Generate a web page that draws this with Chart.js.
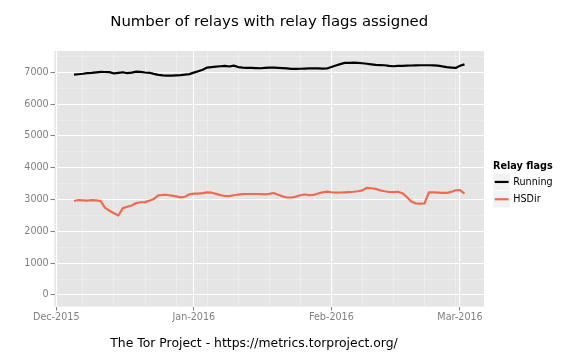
<!DOCTYPE html>
<html><head><meta charset="utf-8">
<script src="https://cdn.jsdelivr.net/npm/chart.js@4/dist/chart.umd.min.js"></script>
<style>html,body{margin:0;padding:0;background:#fff;} canvas{display:block;}</style>
</head><body>
<canvas id="c" width="576" height="360"></canvas>
<script>
const dates = [
'2015-12-05','2015-12-06','2015-12-07','2015-12-08','2015-12-09','2015-12-10','2015-12-11','2015-12-12','2015-12-13','2015-12-14',
'2015-12-15','2015-12-16','2015-12-17','2015-12-18','2015-12-19','2015-12-20','2015-12-21','2015-12-22','2015-12-23','2015-12-24',
'2015-12-25','2015-12-26','2015-12-27','2015-12-28','2015-12-29','2015-12-30','2015-12-31',
'2016-01-01','2016-01-02','2016-01-03','2016-01-04','2016-01-05','2016-01-06','2016-01-07','2016-01-08','2016-01-09','2016-01-10',
'2016-01-11','2016-01-12','2016-01-13','2016-01-14','2016-01-15','2016-01-16','2016-01-17','2016-01-18','2016-01-19','2016-01-20',
'2016-01-21','2016-01-22','2016-01-23','2016-01-24','2016-01-25','2016-01-26','2016-01-27','2016-01-28','2016-01-29','2016-01-30','2016-01-31',
'2016-02-01','2016-02-02','2016-02-03','2016-02-04','2016-02-05','2016-02-06','2016-02-07','2016-02-08','2016-02-09','2016-02-10',
'2016-02-11','2016-02-12','2016-02-13','2016-02-14','2016-02-15','2016-02-16','2016-02-17','2016-02-18','2016-02-19','2016-02-20',
'2016-02-21','2016-02-22','2016-02-23','2016-02-24','2016-02-25','2016-02-26','2016-02-27','2016-02-28','2016-02-29',
'2016-03-01','2016-03-02'
];
const running = [
6928,6940,6955,6975,6985,7000,7013,7010,7005,6965,
6985,7003,6972,6990,7020,7015,6995,6985,6950,6920,
6905,6898,6897,6905,6909,6925,6942,
6990,7035,7080,7148,7165,7178,7190,7201,7182,7211,
7165,7150,7142,7137,7132,7128,7138,7148,7150,7140,
7130,7122,7110,7107,7112,7117,7122,7128,7122,7117,7120,
7165,7215,7258,7295,7300,7305,7298,7285,7270,7250,
7233,7228,7222,7200,7191,7201,7205,7210,7215,7220,
7222,7222,7222,7218,7212,7185,7165,7150,7138,
7205,7250
];
const hsdir = [
2955,2985,2975,2965,2980,2975,2950,2740,2650,2570,
2500,2730,2775,2815,2890,2915,2920,2965,3018,3130,
3144,3144,3125,3098,3068,3088,3165,
3188,3186,3200,3225,3215,3180,3140,3112,3110,3135,
3158,3168,3175,3175,3175,3172,3165,3180,3207,3150,
3100,3065,3065,3092,3135,3160,3140,3145,3190,3225,3248,
3230,3217,3222,3228,3235,3245,3262,3290,3370,3355,
3335,3290,3260,3237,3235,3245,3200,3080,2940,2880,
2870,2878,3230,3225,3215,3208,3207,3240,3292,
3295,3190
];
const seriesNames = ['Running', 'HSDir'];
const seriesColors = ['#000000', '#EE6A50'];
const xTickDates = ['2015-12-01', '2016-01-01', '2016-02-01', '2016-03-01'];
const xTickLabels = ['Dec-2015', 'Jan-2016', 'Feb-2016', 'Mar-2016'];
const xMinorDates = ['2015-12-07','2015-12-14','2015-12-21','2015-12-28','2016-01-04','2016-01-11','2016-01-18','2016-01-25','2016-02-08','2016-02-15','2016-02-22','2016-02-29'];
const yTicks = [0, 1000, 2000, 3000, 4000, 5000, 6000, 7000];
const yMinorTicks = [500, 1500, 2500, 3500, 4500, 5500, 6500, 7500];
const titleText = 'Number of relays with relay flags assigned';
const captionText = 'The Tor Project - https://metrics.torproject.org/';
const legendTitle = 'Relay flags';

const ORIGIN = Date.UTC(2015, 11, 1);
function dayOf(s) { const p = s.split('-').map(Number); return (Date.UTC(p[0], p[1] - 1, p[2]) - ORIGIN) / 86400000; }

const xs = dates.map(dayOf);
const xFirst = xs[0], xLast = xs[xs.length - 1];
const xPad = 0.05 * (xLast - xFirst);
const yMaxData = Math.max(...running, ...hsdir);
const yPad = 0.05 * yMaxData;

Chart.defaults.font.family = "'DejaVu Sans', sans-serif";

const panelBg = {
  id: 'panelBg',
  beforeDraw(chart) {
    const { ctx, chartArea: a } = chart;
    ctx.save();
    ctx.fillStyle = '#E5E5E5';
    ctx.fillRect(a.left, a.top, a.right - a.left, a.bottom - a.top);
    ctx.restore();
  }
};

const ggLegend = {
  id: 'ggLegend',
  afterDraw(chart) {
    const ctx = chart.ctx;
    const x0 = 493, keySize = 17.3, top0 = 173.3;
    ctx.save();
    ctx.textAlign = 'left';
    ctx.textBaseline = 'middle';
    ctx.fillStyle = '#000';
    ctx.font = "bold 9.7px 'DejaVu Sans', sans-serif";
    ctx.fillText(legendTitle, x0, 166.7);
    seriesNames.forEach((name, i) => {
      const t = top0 + i * keySize;
      ctx.fillStyle = '#F2F2F2';
      ctx.fillRect(x0, t, keySize, keySize);
      ctx.strokeStyle = '#FFFFFF';
      ctx.lineWidth = 0.6;
      ctx.strokeRect(x0, t, keySize, keySize);
      ctx.strokeStyle = seriesColors[i];
      ctx.lineWidth = 2.2;
      ctx.beginPath();
      ctx.moveTo(x0 + 1.7, t + keySize / 2);
      ctx.lineTo(x0 + keySize - 1.7, t + keySize / 2);
      ctx.stroke();
      ctx.fillStyle = '#000';
      ctx.font = "9.6px 'DejaVu Sans', sans-serif";
      ctx.fillText(name, 513.3, t + keySize / 2 + 0.5);
    });
    ctx.restore();
  }
};

const gridOpts = {
  color: c => (c.tick && c.tick.isMajor) ? '#FFFFFF' : '#F2F2F2',
  lineWidth: c => (c.tick && c.tick.isMajor) ? 1.1 : 0.55,
  tickColor: c => (c.tick && c.tick.isMajor) ? '#7F7F7F' : 'rgba(0,0,0,0)',
  tickWidth: 1,
  tickLength: 4,
  drawTicks: true
};

new Chart(document.getElementById('c'), {
  type: 'line',
  data: {
    datasets: [
      { label: seriesNames[0], data: xs.map((x, i) => ({ x, y: running[i] })), borderColor: seriesColors[0], backgroundColor: seriesColors[0] },
      { label: seriesNames[1], data: xs.map((x, i) => ({ x, y: hsdir[i] })), borderColor: seriesColors[1], backgroundColor: seriesColors[1] }
    ]
  },
  options: {
    responsive: false,
    animation: false,
    devicePixelRatio: 1,
    layout: { padding: { left: 24, right: 92, top: 0, bottom: 0 } },
    elements: {
      point: { radius: 0, hoverRadius: 0 },
      line: { borderWidth: 2.2, tension: 0, borderJoinStyle: 'round', fill: false }
    },
    plugins: {
      legend: { display: false },
      tooltip: { enabled: false },
      title: {
        display: true, text: titleText, position: 'top', fullSize: false,
        color: '#000', font: { size: 14.9, weight: 'normal' },
        padding: { top: 13.06, bottom: 20.06 }
      },
      subtitle: {
        display: true, text: captionText, position: 'bottom', fullSize: true,
        color: '#000', font: { size: 12.4, weight: 'normal' },
        padding: { top: 0, bottom: 8.56 }
      }
    },
    scales: {
      x: {
        type: 'linear',
        min: xFirst - xPad,
        max: xLast + xPad,
        afterFit: s => { s.height = 29.96; },
        afterBuildTicks: s => {
          const t = xTickDates.map(d => ({ value: dayOf(d), isMajor: true }))
            .concat(xMinorDates.map(d => ({ value: dayOf(d), isMajor: false })));
          t.sort((a, b) => a.value - b.value);
          s.ticks = t;
        },
        ticks: {
          autoSkip: false, maxRotation: 0, minRotation: 0, padding: 1,
          color: '#7F7F7F', font: { size: 9.6 },
          callback: function (value, index, ticks) {
            const k = xTickDates.map(dayOf).indexOf(value);
            return k >= 0 ? xTickLabels[k] : '';
          }
        },
        grid: gridOpts,
        border: { display: false }
      },
      y: {
        type: 'linear',
        min: -yPad,
        max: yMaxData + yPad,
        afterFit: s => { s.width = 30.5; },
        afterBuildTicks: s => {
          const t = yTicks.map(v => ({ value: v, isMajor: true }))
            .concat(yMinorTicks.map(v => ({ value: v, isMajor: false })));
          t.sort((a, b) => a.value - b.value);
          s.ticks = t;
        },
        ticks: {
          autoSkip: false, padding: 1.8,
          color: '#7F7F7F', font: { size: 9.6 },
          callback: function (value) { return yTicks.indexOf(value) >= 0 ? String(value) : ''; }
        },
        grid: gridOpts,
        border: { display: false }
      }
    }
  },
  plugins: [panelBg, ggLegend]
});
</script>
</body></html>
